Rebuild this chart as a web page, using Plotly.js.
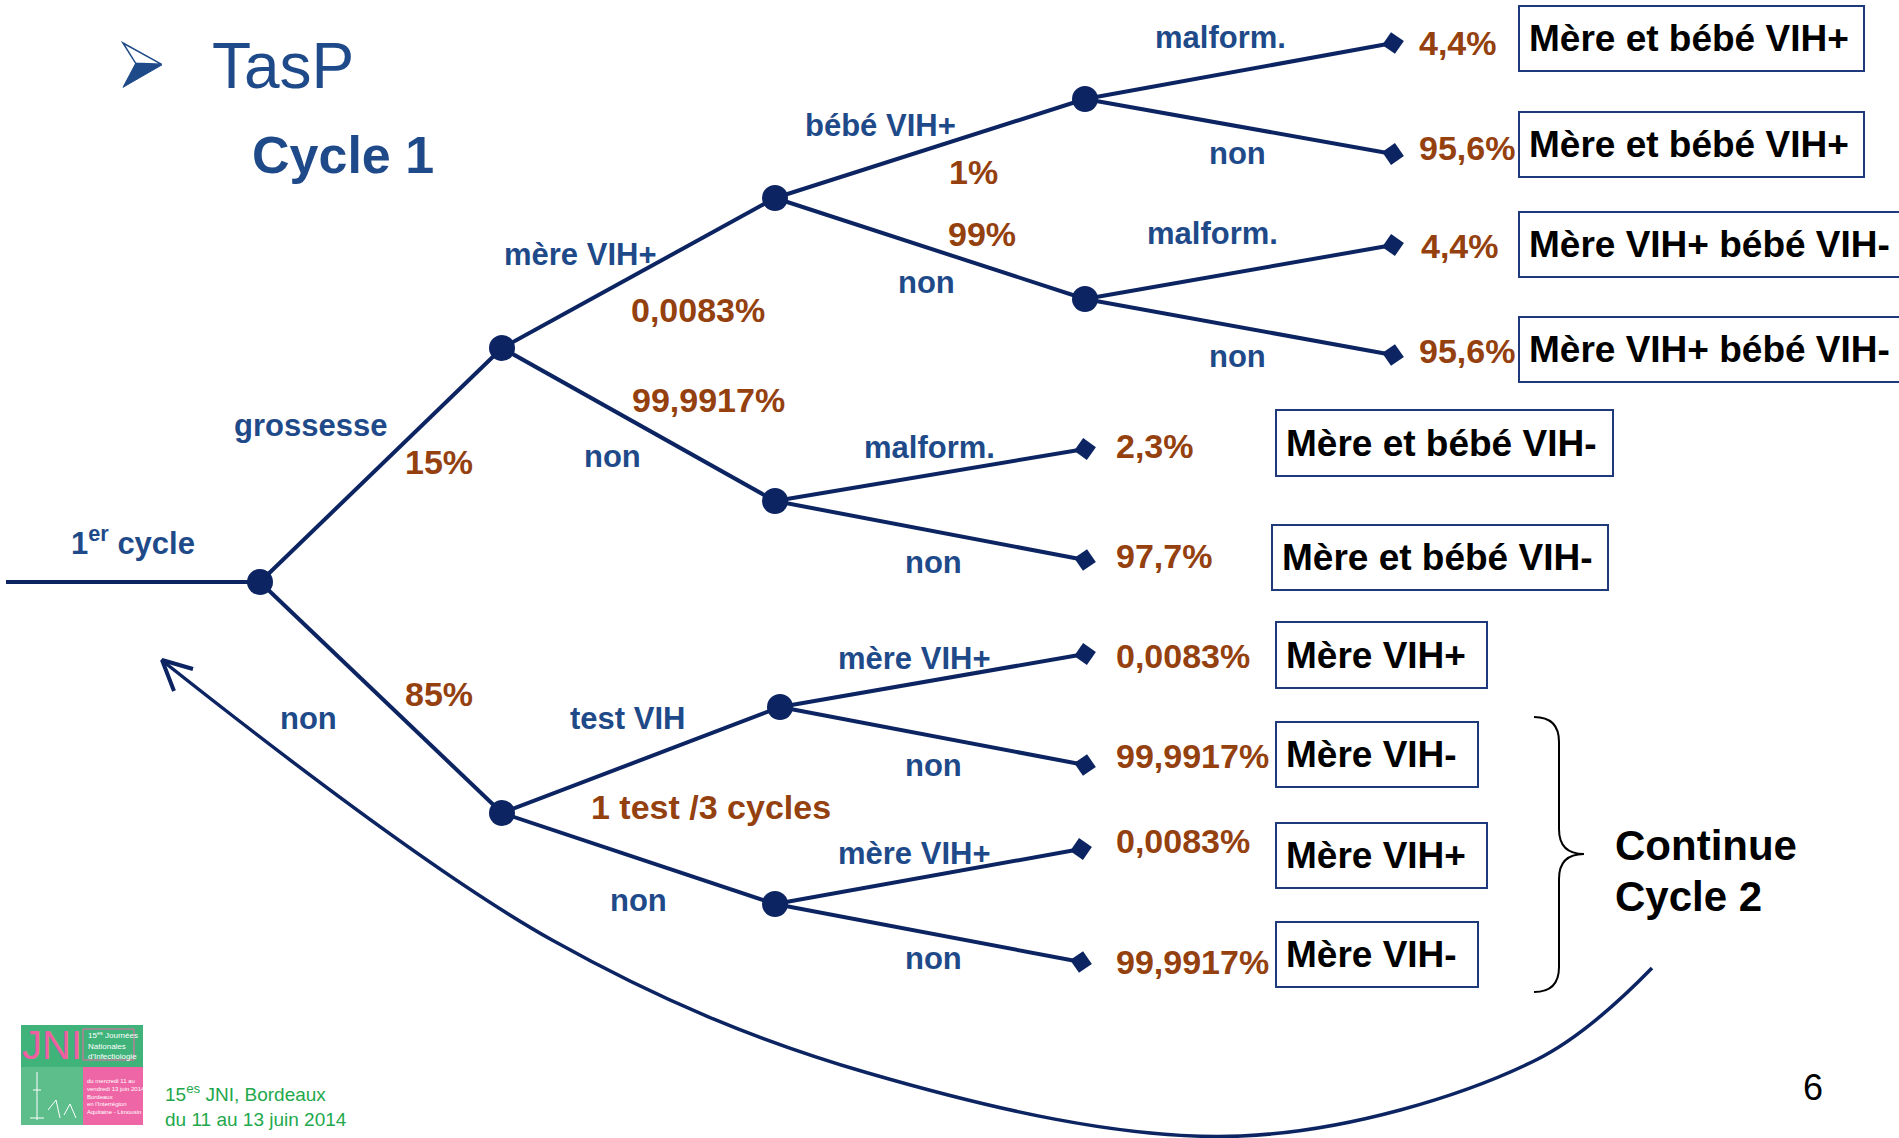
<!DOCTYPE html>
<html>
<head>
<meta charset="utf-8">
<script src="https://cdn.plot.ly/plotly-3.0.1.min.js"></script>
<style>
  html, body { margin: 0; padding: 0; background: #fff; }
  #chart { width: 1899px; height: 1138px; }
</style>
</head>
<body>
<div id="chart"></div>
<script>
// ---- tree data (pixel space of the slide) ----
const nodeNames  = ['S', 'R', 'A', 'B', 'C', 'D', 'E', 'F', 'G', 'H'];
const nodeX      = [6, 260, 502, 502, 775, 775, 780, 775, 1085, 1085];
const nodeY      = [582, 582, 348, 813, 198, 501, 707, 904, 99, 299];
const nodeParent = [null, 'S', 'R', 'R', 'A', 'A', 'B', 'B', 'C', 'C'];

// leaves (diamonds) + outcome boxes
const leafX      = [1393, 1393, 1393, 1393, 1085, 1085, 1085, 1085, 1081, 1081];
const leafY      = [43, 154, 245, 355, 449, 560, 654, 765, 849, 962];
const leafParent = ['G', 'G', 'H', 'H', 'D', 'D', 'E', 'E', 'F', 'F'];
const leafProb   = ['4,4%', '95,6%', '4,4%', '95,6%', '2,3%', '97,7%', '0,0083%', '99,9917%', '0,0083%', '99,9917%'];
const leafProbX  = [1417, 1417, 1419, 1417, 1114, 1114, 1114, 1114, 1114, 1114];
const leafProbY  = [43, 148, 246, 351, 446, 556, 656, 756, 841, 962];
const outcomes   = ['Mère et bébé VIH+', 'Mère et bébé VIH+', 'Mère VIH+ bébé VIH-', 'Mère VIH+ bébé VIH-',
                    'Mère et bébé VIH-', 'Mère et bébé VIH-', 'Mère VIH+', 'Mère VIH-', 'Mère VIH+', 'Mère VIH-'];
const boxX0 = [1519, 1519, 1519, 1519, 1276, 1272, 1276, 1276, 1276, 1276];
const boxX1 = [1864, 1864, 1905, 1905, 1613, 1608, 1487, 1478, 1487, 1478];
const boxY0 = [6, 112, 212, 317, 410, 525, 622, 722, 823, 922];
const boxY1 = [71, 177, 277, 382, 476, 590, 688, 787, 888, 987];

// branch labels (blue)
const branchText = ['1<sup>er</sup> cycle', 'grossesse', 'non', 'mère VIH+', 'non', 'test VIH', 'non',
                    'bébé VIH+', 'non', 'malform.', 'non', 'malform.', 'non', 'malform.', 'non',
                    'mère VIH+', 'non', 'mère VIH+', 'non'];
const branchX = [133, 310, 308, 580, 612, 627, 638, 880, 926, 1220, 1237, 1212, 1237, 929, 933, 914, 933, 914, 933];
const branchY = [541, 425, 718, 254, 456, 718, 900, 125, 282, 37, 153, 233, 356, 447, 562, 658, 765, 853, 958];

// branch probabilities (brown)
const probText = ['15%', '85%', '0,0083%', '99,9917%', '1%', '99%', '1 test /3 cycles'];
const probX    = [439, 439, 698, 708, 973, 982, 711];
const probY    = [462, 694, 310, 400, 172, 234, 807];

// return arrow (Continue Cycle 2 -> 1er cycle)
const loopX = [1652, 1536, 1241, 868, 552, 164];
const loopY = [968, 1060, 1136, 1073, 940, 662];

// ---- styles ----
const NAVY = '#0C2461';
const BLUE = '#1F4A89';
const BROWN = '#94400F';
const FONT = 'Liberation Sans, Arial, sans-serif';

function pos(name) {
    const i = nodeNames.indexOf(name);
    return [nodeX[i], nodeY[i]];
}

// edges between decision nodes
const edgeX = [], edgeY = [];
nodeNames.forEach((n, i) => {
    if (!nodeParent[i]) return;
    const p = pos(nodeParent[i]);
    edgeX.push(p[0], nodeX[i], null);
    edgeY.push(p[1], nodeY[i], null);
});
// edges to leaves
const leafAngle = [];
leafX.forEach((x, i) => {
    const p = pos(leafParent[i]);
    edgeX.push(p[0], x, null);
    edgeY.push(p[1], leafY[i], null);
    leafAngle.push(Math.atan2(leafY[i] - p[1], x - p[0]) * 180 / Math.PI);
});

const traces = [
    {
        x: edgeX, y: edgeY, mode: 'lines', hoverinfo: 'skip',
        line: { color: NAVY, width: 4 }
    },
    {
        x: loopX, y: loopY, mode: 'lines', hoverinfo: 'skip',
        line: { color: NAVY, width: 3.5, shape: 'spline', smoothing: 1 }
    },
    {
        // arrow head of the loop
        x: [193, loopX[loopX.length - 1] - 2, 174], y: [669, loopY[loopY.length - 1] - 2, 691],
        mode: 'lines', hoverinfo: 'skip',
        line: { color: NAVY, width: 4 }
    },
    {
        x: nodeX.slice(1), y: nodeY.slice(1), mode: 'markers', hoverinfo: 'skip',
        marker: { symbol: 'circle', size: 26, color: NAVY }
    },
    {
        x: leafX, y: leafY, mode: 'markers', hoverinfo: 'skip',
        marker: { symbol: 'diamond', size: 17, color: NAVY, angle: leafAngle }
    }
];

const annotations = [];
const shapes = [];

branchText.forEach((t, i) => annotations.push({
    x: branchX[i], y: branchY[i], text: t, showarrow: false,
    xanchor: 'center', yanchor: 'middle',
    font: { family: FONT, size: 31, color: BLUE, weight: 'bold' }
}));
probText.forEach((t, i) => annotations.push({
    x: probX[i], y: probY[i], text: t, showarrow: false,
    xanchor: 'center', yanchor: 'middle',
    font: { family: FONT, size: 34, color: BROWN, weight: 'bold' }
}));
leafProb.forEach((t, i) => annotations.push({
    x: leafProbX[i], y: leafProbY[i], text: t, showarrow: false,
    xanchor: 'left', yanchor: 'middle',
    font: { family: FONT, size: 34, color: BROWN, weight: 'bold' }
}));
outcomes.forEach((t, i) => {
    shapes.push({
        type: 'rect', x0: boxX0[i], x1: boxX1[i], y0: boxY0[i], y1: boxY1[i],
        line: { color: '#1F3A7A', width: 2 }, fillcolor: 'rgba(0,0,0,0)'
    });
    annotations.push({
        x: boxX0[i] + 8, y: (boxY0[i] + boxY1[i]) / 2, text: t, showarrow: false,
        xanchor: 'left', yanchor: 'middle',
        font: { family: FONT, size: 37, color: '#000', weight: 'bold' }
    });
});

// titles
annotations.push(
    { x: 283, y: 66, text: 'TasP', showarrow: false, xanchor: 'center', yanchor: 'middle',
      font: { family: FONT, size: 64, color: BLUE } },
    { x: 343, y: 155, text: 'Cycle 1', showarrow: false, xanchor: 'center', yanchor: 'middle',
      font: { family: FONT, size: 52, color: BLUE, weight: 'bold' } },
    { x: 1613, y: 845, text: 'Continue', showarrow: false, xanchor: 'left', yanchor: 'middle',
      font: { family: FONT, size: 42, color: '#000', weight: 'bold' } },
    { x: 1613, y: 896, text: 'Cycle 2', showarrow: false, xanchor: 'left', yanchor: 'middle',
      font: { family: FONT, size: 42, color: '#000', weight: 'bold' } },
    { x: 1813, y: 1087, text: '6', showarrow: false, xanchor: 'center', yanchor: 'middle',
      font: { family: FONT, size: 36, color: '#000' } }
);

// bullet arrow
shapes.push(
    { type: 'path', path: 'M123,43 L161.7,64.3 L135.7,63.3 Z', line: { color: BLUE, width: 1.5 }, fillcolor: '#fff' },
    { type: 'path', path: 'M135.7,63.3 L161.7,65 L123,87.3 Z', line: { color: BLUE, width: 1 }, fillcolor: BLUE }
);

// curly brace
shapes.push({
    type: 'path',
    path: 'M1534,717 Q1559,717 1559,742 L1559,829 Q1559,854 1584,854 Q1559,854 1559,879 L1559,967 Q1559,992 1534,992',
    line: { color: '#000', width: 2 }
});

// footer logo
shapes.push(
    { type: 'rect', x0: 21, x1: 143, y0: 1025, y1: 1067, line: { width: 0 }, fillcolor: '#40B37A' },
    { type: 'rect', x0: 21, x1: 83, y0: 1067, y1: 1125, line: { width: 0 }, fillcolor: '#5DBE8C' },
    { type: 'rect', x0: 83, x1: 143, y0: 1067, y1: 1125, line: { width: 0 }, fillcolor: '#EF66A6' },
    { type: 'rect', x0: 83, x1: 134, y0: 1029, y1: 1060, line: { color: '#EF66A6', width: 1 }, fillcolor: 'rgba(0,0,0,0)' },
    { type: 'path', path: 'M37,1072 L37,1120 M33,1090 L41,1090 M30,1118 L44,1118 M48,1110 L56,1100 L60,1118 M64,1115 L70,1104 L76,1118',
      line: { color: '#fff', width: 1 } }
);
annotations.push(
    { x: 52, y: 1045, text: 'JNI', showarrow: false, xanchor: 'center', yanchor: 'middle',
      font: { family: FONT, size: 40, color: '#EF5FA2', weight: 300 } },
    { x: 86, y: 1045, text: '15<sup>es</sup> Journées<br>Nationales<br>d\'Infectiologie', showarrow: false,
      xanchor: 'left', yanchor: 'middle', align: 'left',
      font: { family: FONT, size: 8, color: '#fff' } },
    { x: 85, y: 1096, text: 'du mercredi 11 au<br>vendredi 13 juin 2014<br>Bordeaux<br>en l\'Interrégion<br>Aquitaine - Limousin',
      showarrow: false, xanchor: 'left', yanchor: 'middle', align: 'left',
      font: { family: FONT, size: 6, color: '#fff' } },
    { x: 163, y: 1093, text: '15<sup>es</sup> JNI, Bordeaux', showarrow: false, xanchor: 'left', yanchor: 'middle',
      font: { family: FONT, size: 19, color: '#22A84C' } },
    { x: 163, y: 1119, text: 'du 11 au 13 juin 2014', showarrow: false, xanchor: 'left', yanchor: 'middle',
      font: { family: FONT, size: 19, color: '#22A84C' } }
);

const layout = {
    width: 1899, height: 1138,
    margin: { l: 0, r: 0, t: 0, b: 0 },
    paper_bgcolor: '#fff', plot_bgcolor: '#fff',
    showlegend: false,
    xaxis: { range: [0, 1899], visible: false, fixedrange: true },
    yaxis: { range: [1138, 0], visible: false, fixedrange: true },
    shapes: shapes,
    annotations: annotations
};

Plotly.newPlot('chart', traces, layout, { staticPlot: true, displayModeBar: false });
</script>
</body>
</html>
